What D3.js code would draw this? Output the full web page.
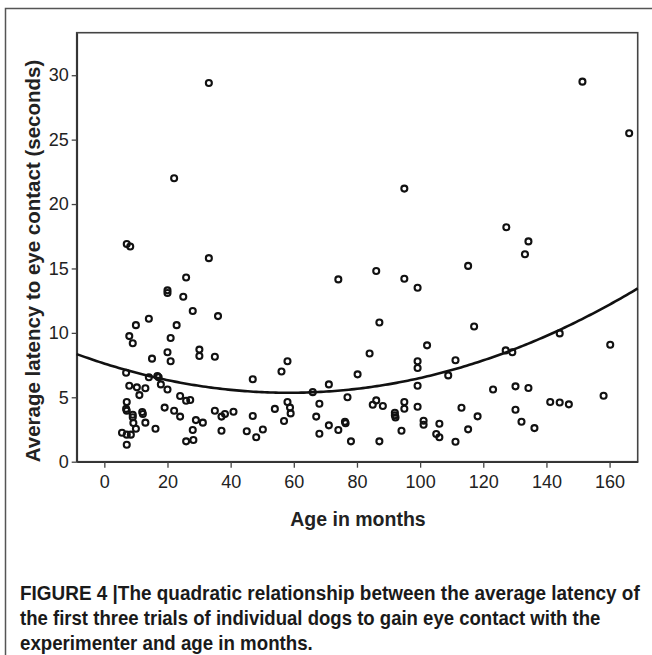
<!DOCTYPE html>
<html>
<head>
<meta charset="utf-8">
<script src="https://cdn.jsdelivr.net/npm/d3@7"></script>
<style>
  html, body { margin: 0; padding: 0; background: #fff; }
  svg { display: block; }
</style>
</head>
<body>
<svg id="chart" width="652" height="655"></svg>
<script>
// ---- data ----
const ageMonths = [7.1,8.2,33.1,25.9,20,20,25,28,14.1,36,10,22.9,7.9,9,21,20,30.1,30.1,35,15.1,21,6.9,14.1,16.8,17.2,17.9,7.9,10.3,13,11.1,20,24,25.9,27.2,47,7.1,6.9,7.1,9,9,9.2,12,12.2,5.6,7.1,8.4,10,7.1,13,16.2,19.1,22.1,24,29,31.2,28,25.9,28.2,35,37.1,38.2,37.1,40.9,45.1,47,48.1,33.1,22.1,74.1,86.1,95,99.2,87.1,102.2,84,99.2,99.2,99.2,58,56.1,80.2,71.1,66,77,68.1,86.1,85,88.2,95,95,99.2,92,92,92.2,58,58.8,59,54,56.9,67.1,68.1,71.1,74.1,76.2,76.4,78.1,87.1,94.1,101.1,101.1,106.1,105.1,106.1,50.2,108.9,134.3,133.2,115.2,117.1,144.2,160.2,127.1,129.2,111.2,123.1,130.2,134.3,158.1,141.2,144.2,147.1,113.1,118.2,130.2,132.1,136.2,115.2,111.2,151.4,166.2,127.3,95];
const latency = [16.9,16.7,15.8,14.3,13.3,13.1,12.8,11.7,11.1,11.3,10.6,10.6,9.75,9.2,9.6,8.5,8.7,8.2,8.15,8.0,7.8,6.9,6.55,6.65,6.55,6.0,5.9,5.77,5.7,5.17,5.6,5.1,4.73,4.79,6.4,4.63,4.1,3.95,3.65,3.45,3.0,3.86,3.7,2.25,2.1,2.1,2.56,1.32,3.03,2.56,4.2,3.96,3.5,3.23,3.03,2.46,1.58,1.68,3.96,3.5,3.7,2.4,3.88,2.36,3.55,1.9,29.4,22.0,14.15,14.8,14.2,13.5,10.8,9.03,8.4,7.8,7.27,5.9,7.8,7.0,6.78,6.0,5.4,5.0,4.5,4.76,4.42,4.32,4.63,4.11,4.27,3.8,3.6,3.44,4.63,4.2,3.75,4.1,3.16,3.5,2.17,2.82,2.46,3.1,2.98,1.58,1.58,2.4,3.18,2.87,2.95,2.15,1.9,2.5,6.7,17.1,16.1,15.2,10.5,9.96,9.08,8.64,8.49,7.87,5.6,5.85,5.72,5.12,4.63,4.6,4.45,4.19,3.52,4.03,3.1,2.61,2.51,1.55,29.5,25.5,18.2,21.2];
// quadratic fit y = b0 + b1*x + b2*x^2
const fitCoefficients = [7.62, -0.07764, 0.000664];
const xTicks = [0,20,40,60,80,100,120,140,160];
const yTicks = [0,5,10,15,20,25,30];
const xDomain = [-8.75, 168.9];
const yDomain = [0, 33.3];
const captionLines = [
  "FIGURE 4 |The quadratic relationship between the average latency of",
  "the first three trials of individual dogs to gain eye contact with the",
  "experimenter and age in months."
];
const captionWidths = [620, 581, 293];

// ---- layout ----
const svg = d3.select("#chart");
const L = 76.7, R = 637.7, T = 32.7, B = 461.7;
const x = d3.scaleLinear().domain(xDomain).range([L, R]);
const y = d3.scaleLinear().domain(yDomain).range([B, T]);
const textColor = "#222";
const fontAx = "'Liberation Sans', Arial, Helvetica, sans-serif";

// outer frame
svg.append("rect").attr("x", 5.5).attr("y", 8.5).attr("width", 700).attr("height", 700)
  .attr("fill", "none").attr("stroke", "#555").attr("stroke-width", 1.5);

// plot box
svg.append("rect").attr("x", L).attr("y", T).attr("width", R - L).attr("height", B - T)
  .attr("fill", "#fff").attr("stroke", "#444").attr("stroke-width", 1.6);

// axes
const xAxis = d3.axisBottom(x).tickValues(xTicks).tickSize(6).tickSizeOuter(0).tickPadding(4);
const gx = svg.append("g").attr("transform", `translate(0,${B})`).call(xAxis);
const yAxis = d3.axisLeft(y).tickValues(yTicks).tickSize(5).tickSizeOuter(0).tickPadding(3);
const gy = svg.append("g").attr("transform", `translate(${L},0)`).call(yAxis);
[gx, gy].forEach(g => {
  g.select(".domain").attr("stroke", "#333").attr("stroke-width", 1.8);
  g.selectAll(".tick line").attr("stroke", "#444").attr("stroke-width", 1.3);
  g.selectAll(".tick text").attr("fill", textColor).attr("font-family", fontAx).attr("font-size", 18);
});
gx.selectAll(".tick text").attr("dy", "0.9em");

// fitted curve
const fitX = d3.range(0, 201).map(i => xDomain[0] + (xDomain[1] - xDomain[0]) * i / 200);
const fitLine = d3.line()
  .x(d => x(d))
  .y(d => y(fitCoefficients[0] + fitCoefficients[1] * d + fitCoefficients[2] * d * d));
svg.append("path").datum(fitX).attr("d", fitLine)
  .attr("fill", "none").attr("stroke", "#111").attr("stroke-width", 2.6);

// points
svg.append("g").selectAll("circle").data(ageMonths.map((a, i) => [a, latency[i]]))
  .join("circle")
  .attr("cx", d => x(d[0])).attr("cy", d => y(d[1])).attr("r", 3)
  .attr("fill", "none").attr("stroke", "#111").attr("stroke-width", 2.1);

// axis titles
svg.append("text").attr("x", 358).attr("y", 526)
  .attr("text-anchor", "middle").attr("font-family", fontAx).attr("font-weight", "bold")
  .attr("font-size", 19.5).attr("fill", textColor).text("Age in months");
svg.append("text").attr("transform", `translate(40,261) rotate(-90)`)
  .attr("text-anchor", "middle").attr("font-family", fontAx).attr("font-weight", "bold")
  .attr("font-size", 20.5).attr("fill", textColor).text("Average latency to eye contact (seconds)");

// caption (condensed by horizontal scaling to the reference widths)
captionLines.forEach((t, i) => {
  const g = svg.append("g");
  const txt = g.append("text").attr("x", 0).attr("y", 0)
    .attr("font-family", fontAx).attr("font-weight", "bold").attr("font-size", 20)
    .attr("fill", "#1a1a1a").text(t);
  const w = txt.node().getComputedTextLength();
  const sx = captionWidths[i] / w;
  g.attr("transform", `translate(20,${600 + i * 25}) scale(${sx},1)`);
});
</script>
</body>
</html>
